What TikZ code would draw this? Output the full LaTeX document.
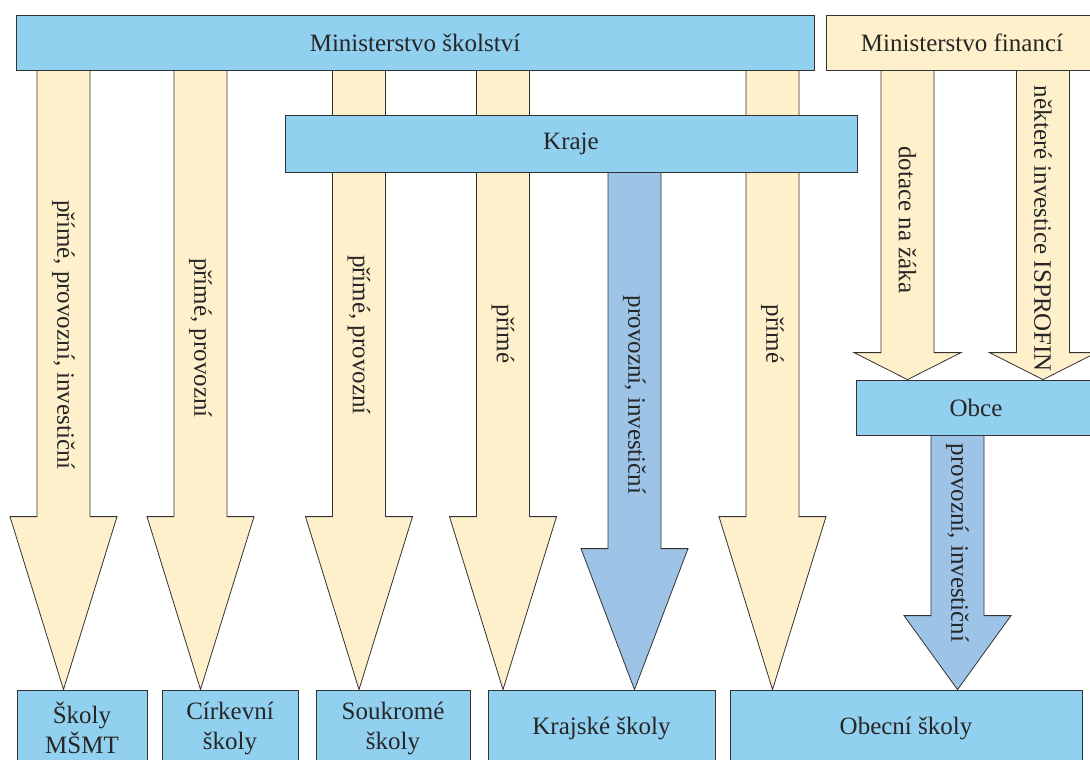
\documentclass[tikz,border=0pt]{standalone}
\usepackage{fontspec}
\setmainfont{Liberation Serif}
\usetikzlibrary{calc,backgrounds,positioning}
\definecolor{boxblue}{RGB}{146,208,240}
\definecolor{cream}{RGB}{255,240,204}
\definecolor{arrblue}{RGB}{157,195,230}
\newcommand{\blockarrow}[5]{%
  \draw[#1] ($(#2 |- #3.south)+(-26.5,0)$) -- ($(#2 |- #3.south)+(26.5,0)$)
    -- ($(#2 |- #4.north)+(26.5,-#5)$) -- ($(#2 |- #4.north)+(53.5,-#5)$)
    -- (#2 |- #4.north) -- ($(#2 |- #4.north)+(-53.5,-#5)$)
    -- ($(#2 |- #4.north)+(-26.5,-#5)$) -- cycle;}

\begin{document}
\begin{tikzpicture}[x=1pt,y=-1pt,
  font=\fontsize{25}{30}\selectfont,text=black!85,
  bluebox/.style={draw=black!80,line width=0.8pt,fill=boxblue,inner sep=0pt,align=center},
  creambox/.style={bluebox,fill=cream},
  creamarrow/.style={draw=black!80,line width=0.8pt,fill=cream},
  bluearrow/.style={creamarrow,fill=arrblue},
  lbl/.style={rotate=-90,inner sep=0pt}]
\useasboundingbox (0,0) rectangle (1090,760);
\node[bluebox,minimum width=798,minimum height=55] (MS) at (415,42.5) {Ministerstvo školství};
\node[creambox,minimum width=272,minimum height=55] (MF) at (962,42.5) {Ministerstvo financí};
\node[bluebox,minimum width=572,minimum height=57] (kraje) at (571,143.5) {Kraje};
\node[bluebox,minimum width=240,minimum height=55] (obce) at (976,407.5) {Obce};
% skoly
\node[bluebox,minimum width=130,minimum height=76] (msmt) at (82,728) {Školy\\MŠMT};
\node[bluebox,minimum width=136,minimum height=76] (cirk) at (230,728) {Církevní\\školy};
\node[bluebox,minimum width=154,minimum height=76] (souk) at (393,728) {Soukromé\\školy};
\node[bluebox,minimum width=227,minimum height=76] (krajske) at (601.5,728) {Krajské školy};
\node[bluebox,minimum width=352,minimum height=76] (obecni) at (906,728) {Obecní školy};

\foreach \n/\x in {1/63.5,2/200.5,3/359,4/503,5/772.5,k/634.5,f1/907.5,f2/1043,o/957.5}
  \coordinate (c\n) at (\x,0);

\begin{scope}[on background layer]
\blockarrow{creamarrow}{c1}{MS}{msmt}{173}
\blockarrow{creamarrow}{c2}{MS}{cirk}{173}
\blockarrow{creamarrow}{c3}{MS}{souk}{173}
\blockarrow{creamarrow}{c4}{MS}{krajske}{173}
\blockarrow{creamarrow}{c5}{MS}{obecni}{173}
\blockarrow{bluearrow}{ck}{kraje}{krajske}{141}
\blockarrow{creamarrow}{cf1}{MF}{obce}{27}
\blockarrow{creamarrow}{cf2}{MF}{obce}{27}
\blockarrow{bluearrow}{co}{obce}{obecni}{74}
\end{scope}

\node[lbl] (l1) at (63.5,335) {přímé, provozní, investiční};
\node[lbl] (l2) at (200.5,338) {přímé, provozní};
\node[lbl] (l3) at (359,335) {přímé, provozní};
\node[lbl] (l4) at (503,334) {přímé};
\node[lbl] (l5) at (772.5,334) {přímé};
\node[lbl] (lk) at (634.5,395) {provozní, investiční};
\node[lbl] (lf1) at (907.5,220) {dotace na žáka};
\node[lbl] (lf2) at (1043,229) {některé investice ISPROFIN};
\node[lbl] (lo) at (957.5,543) {provozní, investiční};
\end{tikzpicture}
\end{document}
